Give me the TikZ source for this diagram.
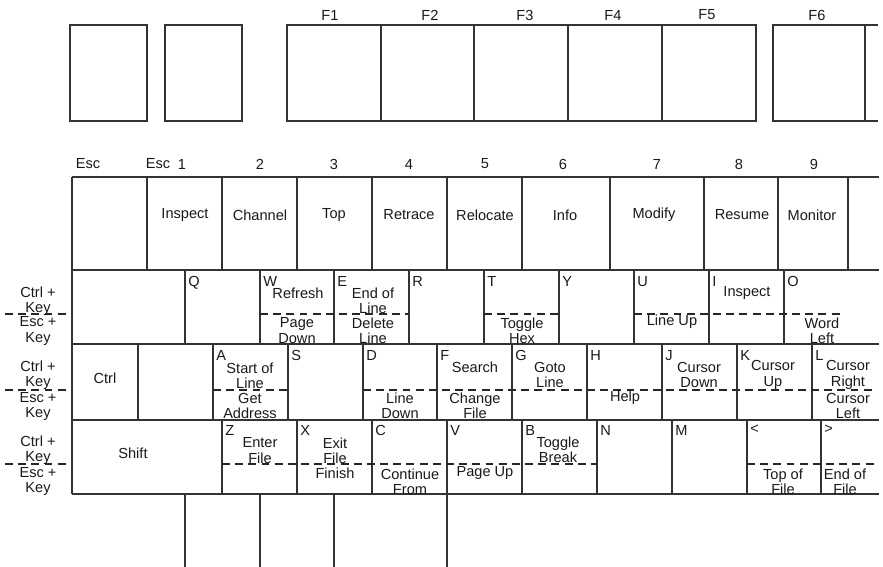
\documentclass[tikz,border=0pt]{standalone}
\usepackage{fontspec}
\setmainfont{Liberation Sans}
\begin{document}
\begin{tikzpicture}[x=0.02cm,y=-0.02cm,
  keyline/.style={draw=black!80,line width=0.6pt},
  dashln/.style={draw=black!85,line width=0.8pt,dash pattern=on 4.5pt off 3pt},
  lbl/.style={inner sep=0pt,text=black!90,font=\fontsize{8.3}{8.7}\selectfont,align=center},
  klet/.style={lbl,anchor=north west}]
\useasboundingbox (0,0) rectangle (883,567);
% function key row
\draw[keyline] (70,25) rectangle (147,121);
\draw[keyline] (165,25) rectangle (242,121);
\draw[keyline] (287,25) rectangle (756,121);
\foreach \x in {381,474,568,662} \draw[keyline] (\x,25) -- (\x,121);
\draw[keyline] (878,25) -- (773,25) -- (773,121) -- (878,121);
\draw[keyline] (865,25) -- (865,121);
\node[lbl] (f1) at (330,15) {F1};
\node[lbl] (f2) at (430,15) {F2};
\node[lbl] (f3) at (525,15) {F3};
\node[lbl] (f4) at (613,15) {F4};
\node[lbl] (f5) at (707,15) {F5};
\node[lbl] (f6) at (817,15) {F6};
% number row labels
\node[lbl] (nesc) at (88,164) {Esc};
\node[lbl] (nesc2) at (158,164) {Esc};
\node[lbl] (n1) at (182,164) {1};
\node[lbl] (n2) at (260,164) {2};
\node[lbl] (n3) at (334,164) {3};
\node[lbl] (n4) at (409,164) {4};
\node[lbl] (n5) at (485,164) {5};
\node[lbl] (n6) at (563,164) {6};
\node[lbl] (n7) at (657,164) {7};
\node[lbl] (n8) at (739,164) {8};
\node[lbl] (n9) at (814,164) {9};
% number row
\draw[keyline] (72,177) -- (879,177);
\draw[keyline] (72,270) -- (879,270);
\foreach \x in {72,147,222,297,372,447,522,610,704,778,848} \draw[keyline] (\x,177) -- (\x,270);
\node[lbl] (k1) at (185,215) {Inspect};
\node[lbl] (k2) at (260,215) {Channel};
\node[lbl] (k3) at (334,215) {Top};
\node[lbl] (k4) at (409,215) {Retrace};
\node[lbl] (k5) at (485,215) {Relocate};
\node[lbl] (k6) at (565,215) {Info};
\node[lbl] (k7) at (654,215) {Modify};
\node[lbl] (k8) at (742,215) {Resume};
\node[lbl] (k9) at (812,215) {Monitor};
% Q row
\draw[keyline] (72,344) -- (879,344);
\foreach \x in {72,185,260,334,409,484,559,634,709,784} \draw[keyline] (\x,270) -- (\x,344);
\draw[dashln] (5,314) -- (70,314);
\draw[dashln] (260,314) -- (409,314);
\draw[dashln] (484,314) -- (559,314);
\draw[dashln] (634,314) -- (842,314);
\node[lbl] (lq1) at (38,301) {Ctrl +\\Key};
\node[lbl] (lq2) at (38,331) {Esc +\\Key};
\node[klet] (q) at (188,276) {Q};
\node[klet] (w) at (263,276) {W};
\node[klet] (e) at (337,276) {E};
\node[klet] (r) at (412,276) {R};
\node[klet] (t) at (487,276) {T};
\node[klet] (y) at (562,276) {Y};
\node[klet] (u) at (637,276) {U};
\node[klet] (i) at (712,276) {I};
\node[klet] (o) at (787,276) {O};
\node[lbl] (wc) at (298,293) {Refresh};
\node[lbl] (we) at (297,330.5) {Page\\Down};
\node[lbl] (ec) at (373,301) {End of\\Line};
\node[lbl] (ee) at (373,330.5) {Delete\\Line};
\node[lbl] (te) at (522,330.5) {Toggle\\Hex};
\node[lbl] (ue) at (672,322) {Line Up};
\node[lbl] (ic) at (747,293) {Inspect};
\node[lbl] (oe) at (822,330.5) {Word\\Left};
% A row
\draw[keyline] (72,420) -- (879,420);
\foreach \x in {72,138,213,288,363,437,512,587,662,737,812} \draw[keyline] (\x,344) -- (\x,420);
\draw[dashln] (5,390) -- (70,390);
\draw[dashln] (213,390) -- (288,390);
\draw[dashln] (363,390) -- (874,390);
\node[lbl] (la1) at (38,375.5) {Ctrl +\\Key};
\node[lbl] (la2) at (38,406.5) {Esc +\\Key};
\node[lbl] (ctrl) at (105,378) {Ctrl};
\node[klet] (a) at (216,350) {A};
\node[klet] (s) at (291,350) {S};
\node[klet] (d) at (366,350) {D};
\node[klet] (f) at (440,350) {F};
\node[klet] (g) at (515,350) {G};
\node[klet] (h) at (590,350) {H};
\node[klet] (j) at (665,350) {J};
\node[klet] (k) at (740,350) {K};
\node[klet] (l) at (815,350) {L};
\node[lbl] (ac) at (250,375.5) {Start of\\Line};
\node[lbl] (ae) at (250,406) {Get\\Address};
\node[lbl] (de) at (400,406) {Line\\Down};
\node[lbl] (fc) at (475,367) {Search};
\node[lbl] (fe) at (475,406) {Change\\File};
\node[lbl] (gc) at (550,375) {Goto\\Line};
\node[lbl] (he) at (625,398) {Help};
\node[lbl] (jc) at (699,375) {Cursor\\Down};
\node[lbl] (kc) at (773,375) {Cursor\\Up};
\node[lbl] (lc) at (848,375) {Cursor\\Right};
\node[lbl] (le) at (848,406) {Cursor\\Left};
% Z row
\draw[keyline] (72,494) -- (879,494);
\foreach \x in {72,222,297,372,447,522,597,672,747,821} \draw[keyline] (\x,420) -- (\x,494);
\draw[dashln] (5,464) -- (70,464);
\draw[dashln] (222,464) -- (597,464);
\draw[dashln] (747,464) -- (874,464);
\node[lbl] (lz1) at (38,450.5) {Ctrl +\\Key};
\node[lbl] (lz2) at (38,481.5) {Esc +\\Key};
\node[lbl] (shift) at (133,453) {Shift};
\node[klet] (z) at (225,425) {Z};
\node[klet] (x) at (300,425) {X};
\node[klet] (c) at (375,425) {C};
\node[klet] (v) at (450,425) {V};
\node[klet] (b) at (525,425) {B};
\node[klet] (n) at (600,425) {N};
\node[klet] (m) at (675,425) {M};
\node[klet] (lt) at (750,425) {<};
\node[klet] (gt) at (824,425) {>};
\node[lbl] (zc) at (260,450.5) {Enter\\File};
\node[lbl] (xc) at (335,450.5) {Exit\\File};
\node[lbl] (xe) at (335,473) {Finish};
\node[lbl] (ce) at (410,481.5) {Continue\\From};
\node[lbl] (ve) at (485,473) {Page Up};
\node[lbl] (bc) at (558,450) {Toggle\\Break};
\node[lbl] (lte) at (783,481.5) {Top of\\File};
\node[lbl] (gte) at (845,481.5) {End of\\File};
% space bar row
\foreach \x in {185,260,334,447} \draw[keyline] (\x,494) -- (\x,567);
\end{tikzpicture}
\end{document}
